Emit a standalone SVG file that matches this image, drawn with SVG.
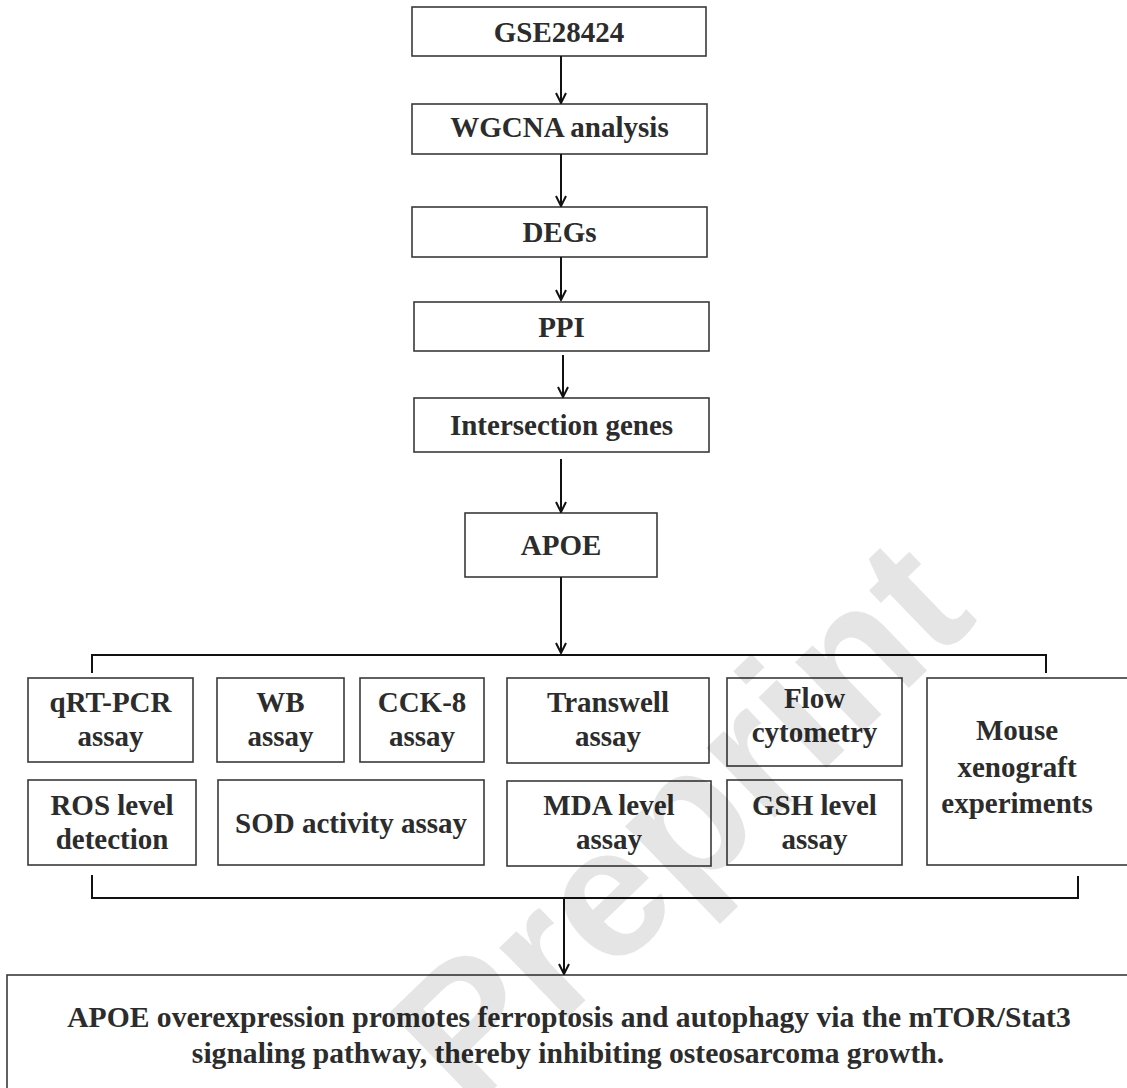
<svg xmlns="http://www.w3.org/2000/svg" width="1127" height="1088" viewBox="0 0 1127 1088">
<defs>
<style>
.box{fill:none;stroke:#3a3a3a;stroke-width:1.6}
.t{font-family:"Liberation Serif","Times New Roman",serif;font-weight:bold;font-size:29px;fill:#2c2c2c;text-anchor:middle}
.big{font-size:29.6px}
.c{fill:none;stroke:#111;stroke-width:2}
.wm{font-family:"Liberation Sans",Arial,sans-serif;font-weight:bold;font-size:185px;fill:#000;fill-opacity:0.1;text-anchor:middle}
</style>
<marker id="ah" viewBox="0 0 12 12" refX="11" refY="6" markerWidth="12" markerHeight="12" markerUnits="userSpaceOnUse" orient="auto">
<path d="M1,1 L11,6 L1,11" fill="none" stroke="#111" stroke-width="2"/>
</marker>
</defs>
<rect width="1127" height="1088" fill="#fff"/>

<g id="n-gse"><rect class="box" x="412" y="7" width="294" height="49"/><text class="t" x="559" y="42">GSE28424</text></g>
<g id="n-wgcna"><rect class="box" x="412" y="104" width="295" height="50"/><text class="t" x="559.5" y="137">WGCNA analysis</text></g>
<g id="n-degs"><rect class="box" x="412" y="207" width="295" height="50"/><text class="t" x="559.5" y="242">DEGs</text></g>
<g id="n-ppi"><rect class="box" x="414" y="302" width="295" height="49"/><text class="t" x="561.5" y="337">PPI</text></g>
<g id="n-inter"><rect class="box" x="414" y="398" width="295" height="54"/><text class="t" x="561.5" y="435">Intersection genes</text></g>
<g id="n-apoe"><rect class="box" x="465" y="513" width="192" height="64"/><text class="t" x="561" y="555">APOE</text></g>

<g id="n-qrt"><rect class="box" x="28" y="678" width="165" height="84"/><text class="t" x="110.5" y="712">qRT-PCR</text><text class="t" x="110.5" y="746">assay</text></g>
<g id="n-wb"><rect class="box" x="217" y="678" width="127" height="84"/><text class="t" x="280.5" y="712">WB</text><text class="t" x="280.5" y="746">assay</text></g>
<g id="n-cck"><rect class="box" x="360" y="678" width="124" height="84"/><text class="t" x="422" y="712">CCK-8</text><text class="t" x="422" y="746">assay</text></g>
<g id="n-transwell"><rect class="box" x="507" y="678" width="202" height="85"/><text class="t" x="608" y="712">Transwell</text><text class="t" x="608" y="746">assay</text></g>
<g id="n-flow"><rect class="box" x="727" y="678" width="175" height="88"/><text class="t" x="814.5" y="708">Flow</text><text class="t" x="814.5" y="742">cytometry</text></g>
<g id="n-mouse"><rect class="box" x="927" y="678" width="220" height="187"/><text class="t" x="1017" y="740">Mouse</text><text class="t" x="1017" y="777">xenograft</text><text class="t" x="1017" y="813">experiments</text></g>
<g id="n-ros"><rect class="box" x="28" y="780" width="168" height="85"/><text class="t" x="112" y="815">ROS level</text><text class="t" x="112" y="849">detection</text></g>
<g id="n-sod"><rect class="box" x="218" y="780" width="266" height="85"/><text class="t" x="351" y="833">SOD activity assay</text></g>
<g id="n-mda"><rect class="box" x="507" y="781" width="204" height="85"/><text class="t" x="609" y="815">MDA level</text><text class="t" x="609" y="849">assay</text></g>
<g id="n-gsh"><rect class="box" x="727" y="780" width="175" height="85"/><text class="t" x="814.5" y="815">GSH level</text><text class="t" x="814.5" y="849">assay</text></g>

<g id="n-result"><rect class="box" x="7" y="975" width="1140" height="130"/>
<text class="t big" x="569" y="1027">APOE overexpression promotes ferroptosis and autophagy via the mTOR/Stat3</text>
<text class="t big" x="568" y="1063">signaling pathway, thereby inhibiting osteosarcoma growth.</text></g>

<g id="connectors">
<line class="c" x1="561" y1="56" x2="561" y2="103" marker-end="url(#ah)"/>
<line class="c" x1="561" y1="154" x2="561" y2="206" marker-end="url(#ah)"/>
<line class="c" x1="561" y1="257" x2="561" y2="300" marker-end="url(#ah)"/>
<line class="c" x1="563" y1="355" x2="563" y2="397" marker-end="url(#ah)"/>
<line class="c" x1="561" y1="459" x2="561" y2="512" marker-end="url(#ah)"/>
<line class="c" x1="561" y1="577" x2="561" y2="653" marker-end="url(#ah)"/>
<path class="c" d="M92,673 V655 H1046 V673"/>
<path class="c" d="M92,875 V898 H1078 V876"/>
<line class="c" x1="564" y1="898" x2="564" y2="974" marker-end="url(#ah)"/>
</g>

<text class="wm" x="0" y="0" transform="translate(680,820) rotate(-44) translate(0,64)">Preprint</text>
</svg>
